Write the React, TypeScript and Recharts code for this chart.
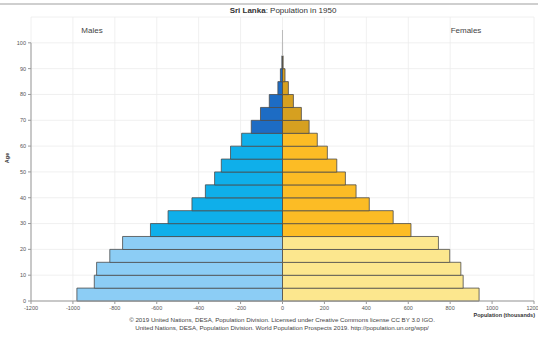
import React from 'react'
import {
  BarChart,
  Bar,
  Cell,
  XAxis,
  YAxis,
  CartesianGrid,
  ReferenceLine,
} from 'recharts'

const ageGroups = [
  '0-4', '5-9', '10-14', '15-19', '20-24', '25-29', '30-34', '35-39', '40-44', '45-49',
  '50-54', '55-59', '60-64', '65-69', '70-74', '75-79', '80-84', '85-89', '90-94', '95-99', '100+',
]
// thousands
const males = [981, 898, 887, 824, 763, 630, 546, 432, 368, 324, 292, 248, 195, 149, 105, 63, 22, 10, 3, 0.5, 0.1]
const females = [938, 862, 851, 798, 744, 613, 528, 414, 351, 300, 259, 214, 166, 127, 90, 52, 28, 12, 3, 0.5, 0.1]

const popTicks = [-1200, -1000, -800, -600, -400, -200, 0, 200, 400, 600, 800, 1000, 1200]
const ageTicks = [0, 10, 20, 30, 40, 50, 60, 70, 80, 90, 100]

const maleColors = ['#8ccdf5', '#0fafea', '#1d6cc4']
const femaleColors = ['#fce78e', '#fcbc25', '#d6a020']

const band = (i: number) => (i < 5 ? 0 : i < 13 ? 1 : 2)

const rows = ageGroups.map((age, i) => ({ age, start: i * 5, male: -males[i], female: females[i] }))

const FONT = '"Liberation Sans", Arial, sans-serif'
const tickStyle = { fontSize: 5.5, fill: '#555', fontFamily: FONT }

export default function App() {
  return (
    <div style={{ position: 'absolute', left: 0, top: 0, width: 538, height: 337, background: '#fff' }}>
      <div style={{ position: 'absolute', left: 0, top: 3, width: 538, height: 2, background: '#cfcfcf' }} />
      <BarChart
        width={538}
        height={337}
        data={rows}
        layout="vertical"
        stackOffset="sign"
        barCategoryGap={0}
        margin={{ top: 17, right: 4, bottom: 0, left: 0 }}
      >
        <CartesianGrid yAxisId="age" stroke="#ececec" strokeWidth={0.8} />
        <XAxis
          type="number"
          domain={[-1200, 1200]}
          ticks={popTicks}
          height={36}
          tick={tickStyle}
          tickSize={3}
          stroke="#999"
        />
        <YAxis
          yAxisId="age"
          type="number"
          dataKey="start"
          domain={[0, 110]}
          allowDataOverflow
          reversed
          ticks={ageTicks}
          width={31}
          tick={tickStyle}
          tickSize={3}
          axisLine={false}
          tickLine={{ stroke: '#999' }}
        />
        <YAxis yAxisId="grp" type="category" dataKey="age" hide reversed padding={{ top: 13 }} />
        <ReferenceLine
          yAxisId="age"
          segment={[{ x: -1200, y: 0 }, { x: -1200, y: 100 }]}
          stroke="#999"
          strokeWidth={1}
          ifOverflow="visible"
        />
        <Bar dataKey="male" stackId="p" yAxisId="grp" stroke="#4a4a4a" strokeWidth={0.8} isAnimationActive={false}>
          {rows.map((_, i) => (
            <Cell key={i} fill={maleColors[band(i)]} stroke={i > 18 ? '#bbb' : '#4a4a4a'} />
          ))}
        </Bar>
        <Bar dataKey="female" stackId="p" yAxisId="grp" stroke="#4a4a4a" strokeWidth={0.8} isAnimationActive={false}>
          {rows.map((_, i) => (
            <Cell key={i} fill={femaleColors[band(i)]} stroke={i > 18 ? '#bbb' : '#4a4a4a'} />
          ))}
        </Bar>
      </BarChart>
      <svg
        width={538}
        height={337}
        style={{ position: 'absolute', left: 0, top: 0, pointerEvents: 'none' }}
        fontFamily={FONT}
      >
        <text x={283} y={13} textAnchor="middle" fontSize={8} fill="#333">
          <tspan fontWeight="bold">Sri Lanka</tspan>: Population in 1950
        </text>
        <text x={92} y={33} textAnchor="middle" fontSize={8} fill="#444">Males</text>
        <text x={466} y={33} textAnchor="middle" fontSize={8} fill="#444">Females</text>
        <text x={9} y={158} textAnchor="middle" fontSize={5.5} fontWeight="bold" fill="#333" transform="rotate(-90 9 158)">
          Age
        </text>
        <text x={535} y={317} textAnchor="end" fontSize={5.5} fontWeight="bold" fill="#333">
          Population (thousands)
        </text>
        <text x={282} y={322} textAnchor="middle" fontSize={6.2} fill="#444">
          © 2019 United Nations, DESA, Population Division. Licensed under Creative Commons license CC BY 3.0 IGO.
        </text>
        <text x={282} y={330} textAnchor="middle" fontSize={6.2} fill="#444">
          United Nations, DESA, Population Division. World Population Prospects 2019. http://population.un.org/wpp/
        </text>
      </svg>
    </div>
  )
}
